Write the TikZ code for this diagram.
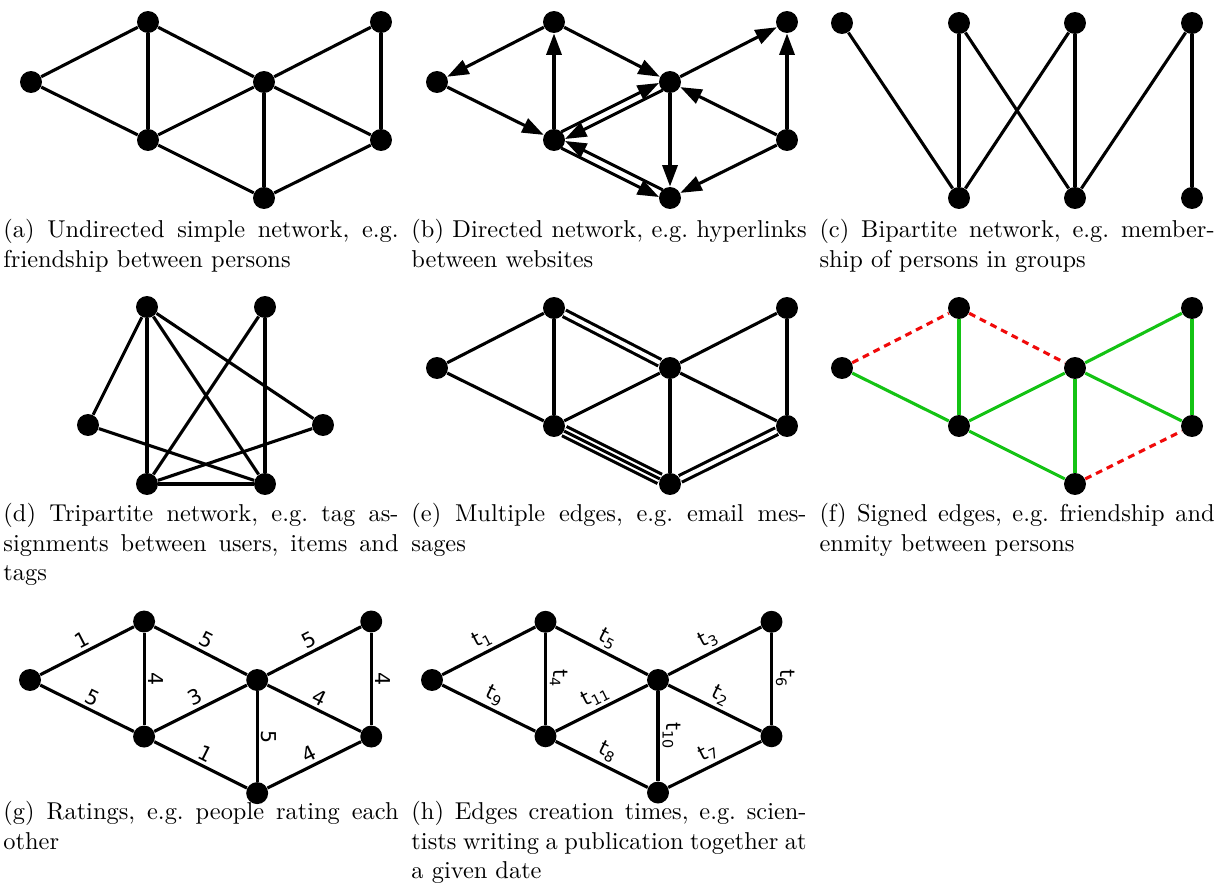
\documentclass[tikz,border=0pt]{standalone}
\usepackage{fontspec}
\newfontfamily\labelfont{DejaVu Sans}
\usetikzlibrary{arrows.meta, calc}
\frenchspacing
\definecolor{friendgreen}{RGB}{20,195,20}
\definecolor{enemyred}{RGB}{240,10,10}
\tikzset{
  % graph styles
  vertex/.style={circle, fill=black, inner sep=0pt, minimum size=9pt},
  edgeline/.style={line width=1.27pt},
  diredge/.style={edgeline, -{Triangle[length=8.8pt, width=6.2pt]}},
  twoway/.style={diredge, shorten <=4.2pt, shorten >=4.2pt},
  twoedge/.style={edgeline, double, double distance=1.65pt},
  threeedge/.style={edgeline, double, double distance=2.9pt},
  friend/.style={edgeline, draw=friendgreen},
  enemy/.style={edgeline, draw=enemyred, dash pattern=on 2.8pt off 2.1pt},
  wlabel/.style={above, sloped, inner sep=1.2pt, font=\labelfont\fontsize{8.4}{9}\selectfont},
  % captions
  subcap/.style={anchor=north west, text width=162pt, align=justify, inner sep=0pt},
}
% the seven vertices of the small example network, names start with #1
\newcommand{\netvertices}[1]{%
  \node[vertex] (#1l)  at (0,0)      {};
  \node[vertex] (#1tl) at (117,60)   {};
  \node[vertex] (#1bl) at (117,-58)  {};
  \node[vertex] (#1c)  at (233,0)    {};
  \node[vertex] (#1b)  at (233,-116) {};
  \node[vertex] (#1tr) at (350,60)   {};
  \node[vertex] (#1br) at (350,-58)  {};
}

\begin{document}
\begin{tikzpicture}[x=0.41pt, y=0.41pt]
  \useasboundingbox (0,0) rectangle (1215,-890);

  % (a) undirected
  \begin{scope}[shift={(31,-82)}]
    \netvertices{a}
  \end{scope}
  \foreach \u/\v in {l/tl, l/bl, tl/bl, tl/c, bl/c, bl/b, c/b, c/tr, c/br, tr/br, b/br}
    \draw[edgeline] (a\u) -- (a\v);

  % (b) directed
  \begin{scope}[shift={(437,-82)}]
    \netvertices{b}
  \end{scope}
  \foreach \u/\v in {tl/l, l/bl, bl/tl, tl/c, c/b, c/tr, br/tr, br/c, br/b}
    \draw[diredge] (b\u) -- (b\v);
  \draw[twoway] ($(bbl)!1.65pt!90:(bc)$) -- ($(bc)!1.65pt!-90:(bbl)$);
  \draw[twoway] ($(bc)!1.65pt!90:(bbl)$) -- ($(bbl)!1.65pt!-90:(bc)$);
  \draw[twoway] ($(bbl)!1.65pt!-90:(bb)$) -- ($(bb)!1.65pt!90:(bbl)$);
  \draw[twoway] ($(bb)!1.65pt!-90:(bbl)$) -- ($(bbl)!1.65pt!90:(bb)$);

  % (c) bipartite
  \foreach \i/\x in {1/842, 2/959, 3/1075, 4/1192}
    \node[vertex] (ct\i) at (\x,-23) {};
  \foreach \i/\x in {1/959, 2/1075, 3/1192}
    \node[vertex] (cb\i) at (\x,-198) {};
  \foreach \u/\v in {1/1, 2/1, 2/2, 3/1, 3/2, 4/2, 4/3}
    \draw[edgeline] (ct\u) -- (cb\v);

  % (d) tripartite
  \node[vertex] (du1) at (147,-307) {};
  \node[vertex] (du2) at (265,-307) {};
  \node[vertex] (dt1) at (88,-425)  {};
  \node[vertex] (dt2) at (323,-425) {};
  \node[vertex] (di1) at (147,-484) {};
  \node[vertex] (di2) at (265,-484) {};
  \foreach \u/\v in {du1/dt1, du1/di1, du1/di2, du1/dt2, du2/di1, du2/di2, dt1/di2, dt2/di1, di1/di2}
    \draw[edgeline] (\u) -- (\v);

  % (e) multiple edges
  \begin{scope}[shift={(437,-368)}]
    \netvertices{e}
  \end{scope}
  \foreach \u/\v in {l/tl, l/bl, tl/bl, bl/c, c/b, c/tr, c/br, tr/br}
    \draw[edgeline] (e\u) -- (e\v);
  \draw[twoedge] (etl) -- (ec);
  \draw[twoedge] (eb) -- (ebr);
  \draw[threeedge] (ebl) -- (eb);
  \draw[edgeline] (ebl) -- (eb);

  % (f) signed edges
  \begin{scope}[shift={(842,-368)}]
    \netvertices{f}
  \end{scope}
  \foreach \u/\v in {l/bl, tl/bl, bl/c, bl/b, c/b, c/tr, c/br, tr/br}
    \draw[friend] (f\u) -- (f\v);
  \foreach \u/\v in {l/tl, tl/c, b/br}
    \draw[enemy] (f\u) -- (f\v);

  % (g) ratings
  \begin{scope}[shift={(30,-680)}, scale=0.975]
    \netvertices{g}
  \end{scope}
  \foreach \u/\v/\w in {l/tl/1, l/bl/5, tl/bl/4, tl/c/5, bl/c/3, bl/b/1, c/b/5, c/tr/5, c/br/4, tr/br/4, b/br/4}
    \draw[edgeline] (g\u) -- node[wlabel] {\w} (g\v);

  % (h) creation times
  \begin{scope}[shift={(432,-680)}, scale=0.97]
    \netvertices{h}
  \end{scope}
  \foreach \u/\v/\w in {l/tl/1, l/bl/9, tl/bl/4, tl/c/5, bl/c/11, bl/b/8, c/b/10, c/tr/3, c/br/2, tr/br/6, b/br/7}
    \draw[edgeline] (h\u) -- node[wlabel] {t\textsubscript{\w}} (h\v);

  % captions
  \node[subcap] (capa) at (3,-219)   {(a) Undirected simple network, e.g.\linebreak friendship between persons};
  \node[subcap] (capb) at (411,-219) {(b) Directed network, e.g. hyperlinks\linebreak between websites};
  \node[subcap] (capc) at (819,-219) {(c) Bipartite network, e.g. member-\linebreak ship of persons in groups};
  \node[subcap] (capd) at (3,-503)   {(d) Tripartite network, e.g. tag as-\linebreak signments between users, items and\linebreak tags};
  \node[subcap] (cape) at (411,-503) {(e) Multiple edges, e.g. email mes-\linebreak sages};
  \node[subcap] (capf) at (819,-503) {(f) Signed edges, e.g. friendship and\linebreak enmity between persons};
  \node[subcap] (capg) at (3,-801)   {(g) Ratings, e.g. people rating each\linebreak other};
  \node[subcap] (caph) at (411,-801) {(h) Edges creation times, e.g. scien-\linebreak tists writing a publication together at\linebreak a given date};
\end{tikzpicture}
\end{document}
